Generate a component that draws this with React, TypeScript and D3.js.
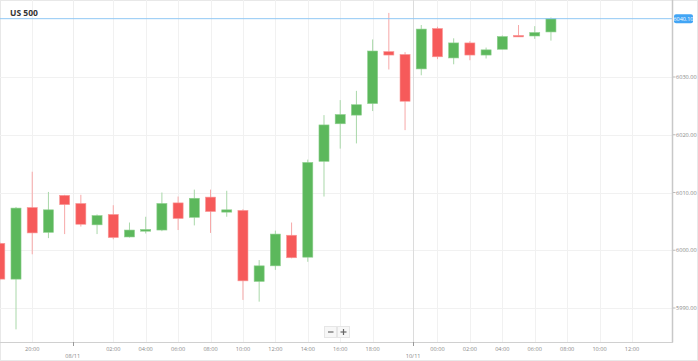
import React from "react";
import * as d3 from "d3";

const W = 698;
const H = 361;

// OHLC hourly candles (index-based category axis)
const opens = [6001.2, 5995.0, 6007.4, 6003.1, 6009.5, 6008.1, 6004.4, 6006.2, 6002.3, 6003.3, 6003.5, 6008.2, 6005.7, 6009.2, 6006.6, 6006.9, 5994.6, 5997.3, 6002.6, 5998.8, 6015.4, 6021.9, 6023.4, 6025.4, 6034.4, 6033.9, 6031.4, 6038.4, 6033.3, 6035.9, 6033.8, 6034.8, 6037.2, 6037.1, 6037.8];
const highs = [6001.4, 6007.5, 6013.6, 6010.1, 6009.6, 6009.6, 6006.2, 6007.8, 6004.8, 6005.8, 6010.0, 6009.3, 6010.5, 6010.5, 6010.3, 6007.1, 5998.3, 6003.4, 6004.8, 6015.7, 6023.4, 6026.0, 6027.6, 6036.5, 6041.1, 6034.3, 6039.0, 6038.7, 6036.7, 6036.2, 6035.1, 6037.2, 6039.0, 6038.8, 6040.3];
const lows = [5994.8, 5986.3, 5999.3, 6002.1, 6002.8, 6004.1, 6002.8, 6001.9, 6002.2, 6002.9, 6003.3, 6003.5, 6004.3, 6003.0, 6005.8, 5991.4, 5991.1, 5996.6, 5998.6, 5998.0, 6009.3, 6017.6, 6018.5, 6024.1, 6031.3, 6020.8, 6030.3, 6033.1, 6032.2, 6032.9, 6033.2, 6034.8, 6037.0, 6036.6, 6036.3];
const closes = [5995.0, 6007.3, 6003.0, 6007.0, 6007.9, 6004.5, 6006.0, 6002.2, 6003.5, 6003.6, 6008.1, 6005.5, 6009.0, 6006.7, 6007.0, 5994.7, 5997.3, 6002.8, 5998.7, 6015.2, 6021.7, 6023.5, 6025.2, 6034.5, 6033.8, 6025.8, 6038.3, 6033.5, 6035.9, 6033.8, 6034.7, 6037.0, 6037.0, 6037.7, 6040.1];

const timeTickIdx = [2, 7, 9, 11, 13, 15, 17, 19, 21, 23, 27, 29, 31, 33, 35, 37, 39];
const timeTickLabels = ["20:00", "02:00", "04:00", "06:00", "08:00", "10:00", "12:00", "14:00", "16:00", "18:00", "00:00", "02:00", "04:00", "06:00", "08:00", "10:00", "12:00"];
const dayIdx = [4.5, 25.5];
const dayLabels = ["08/11", "10/11"];

const yTicks = [5990, 6000, 6010, 6020, 6030];
const lastPrice = 6040.1;
const title = "US 500";

const PLOT_R = 673;
const PLOT_B = 342;

const UP = "#5cb85c";
const DOWN = "#f65a5a";
const UP_WICK = "#a9d8a9";
const DOWN_WICK = "#f7a8a8";
const FONT = "'Open Sans', 'DejaVu Sans', sans-serif";

export default function App() {
  const x = d3.scaleLinear().domain([0, 41.53]).range([-0.2, PLOT_R]);
  const y = d3.scaleLinear().domain([5990, 6030]).range([308, 77]);
  const step = x(1) - x(0);
  const bodyW = step * 0.62;
  const fmt = d3.format(".2f");
  const ly = y(lastPrice);

  return (
    <svg
      width={W}
      height={H}
      style={{ position: "fixed", left: 0, top: 0, background: "#fff" }}
      fontFamily={FONT}
    >
      <rect x={0.5} y={0.5} width={W - 1} height={H - 1} fill="#fff" stroke="#e8e8e8" />
      {/* horizontal grid */}
      {yTicks.map((t) => (
        <line key={"hg" + t} x1={0} x2={PLOT_R} y1={Math.round(y(t)) + 0.5} y2={Math.round(y(t)) + 0.5} stroke="#f1f1f1" />
      ))}
      {/* vertical grid */}
      {timeTickIdx.map((i, k) => (
        <line key={"vg" + k} x1={Math.round(x(i)) + 0.5} x2={Math.round(x(i)) + 0.5} y1={0} y2={PLOT_B} stroke="#f1f1f1" />
      ))}
      {dayIdx.map((i, k) => (
        <line key={"dg" + k} x1={Math.round(x(i)) + 0.5} x2={Math.round(x(i)) + 0.5} y1={0} y2={PLOT_B} stroke={k === 1 ? "#dcdcdc" : "#eeeeee"} />
      ))}
      {/* candles */}
      {opens.map((o, i) => {
        const c = closes[i];
        const up = c >= o;
        const cx = x(i);
        const top = y(Math.max(o, c));
        const bot = y(Math.min(o, c));
        return (
          <g key={"c" + i}>
            <line x1={cx} x2={cx} y1={y(highs[i])} y2={y(lows[i])} stroke={up ? UP_WICK : DOWN_WICK} strokeWidth={1} />
            <rect
              x={cx - bodyW / 2}
              y={top}
              width={bodyW}
              height={Math.max(1.5, bot - top)}
              fill={up ? UP : DOWN}
              stroke={up ? "#8fd08f" : "#f99a9a"}
              strokeWidth={0.6}
            />
          </g>
        );
      })}
      {/* last price line */}
      <line x1={0} x2={PLOT_R} y1={ly} y2={ly} stroke="#90c8f5" strokeWidth={1} />
      {/* axes lines */}
      <line x1={PLOT_R - 0.5} x2={PLOT_R - 0.5} y1={0} y2={PLOT_B + 0.5} stroke="#c8c8c8" strokeWidth={1.5} />
      <line x1={0} x2={PLOT_R} y1={PLOT_B + 0.5} y2={PLOT_B + 0.5} stroke="#d0d0d0" />
      {/* y labels */}
      {yTicks.map((t) => (
        <g key={"yl" + t}>
          <line x1={PLOT_R} x2={PLOT_R + 2.5} y1={y(t)} y2={y(t)} stroke="#bbb" />
          <text x={PLOT_R + 3} y={y(t) + 2} fontSize={5.6} fill="#8a8a8a">
            {fmt(t)}
          </text>
        </g>
      ))}
      {/* last price tag */}
      <rect x={PLOT_R + 1} y={ly - 4.5} width={19} height={9} rx={2} fill="#42a5f5" />
      <text x={PLOT_R + 10.5} y={ly + 2} fontSize={5.4} fill="#fff" textAnchor="middle">
        {fmt(lastPrice)}
      </text>
      {/* x labels */}
      {timeTickIdx.map((i, k) => (
        <text key={"xl" + k} x={x(i)} y={351} fontSize={5.6} fill="#8a8a8a" textAnchor="middle">
          {timeTickLabels[k]}
        </text>
      ))}
      {dayIdx.map((i, k) => (
        <g key={"dl" + k}>
          <line x1={Math.round(x(i)) + 0.5} x2={Math.round(x(i)) + 0.5} y1={PLOT_B} y2={PLOT_B + 4} stroke="#999" />
          <text x={x(i)} y={357.5} fontSize={5.6} fill="#8a8a8a" textAnchor="middle">
            {dayLabels[k]}
          </text>
        </g>
      ))}
      {/* title */}
      <text x={10} y={15.5} fontSize={8.5} fontWeight="bold" fill="#333">
        {title}
      </text>
      {/* zoom control */}
      <g>
        <rect x={324.5} y={326.5} width={12} height={11} fill="#f7f7f7" stroke="#e6e6e6" />
        <rect x={337.5} y={326.5} width={12} height={11} fill="#f7f7f7" stroke="#e6e6e6" />
        <line x1={328} x2={333.5} y1={332} y2={332} stroke="#666" strokeWidth={1.2} />
        <line x1={340.5} x2={346.5} y1={332} y2={332} stroke="#666" strokeWidth={1.2} />
        <line x1={343.5} x2={343.5} y1={329} y2={335} stroke="#666" strokeWidth={1.2} />
      </g>
    </svg>
  );
}
